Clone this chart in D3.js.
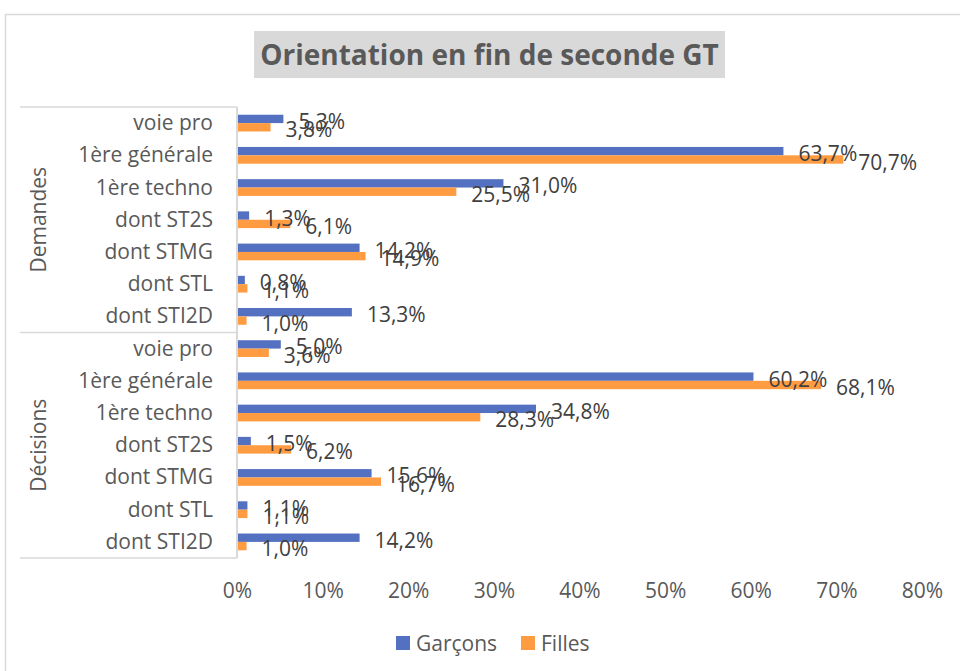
<!DOCTYPE html>
<html>
<head>
<meta charset="utf-8">
<script src="https://cdn.jsdelivr.net/npm/d3@7"></script>
<style>
  body { margin: 0; background: #fff; }
  svg { display: block; font-family: "Open Sans", "Noto Sans", sans-serif; }
</style>
</head>
<body>
<div id="chart"></div>
<script>
// données
var groupes = ["Demandes", "Décisions"];
var filieres = ["voie pro", "1ère générale", "1ère techno", "dont ST2S", "dont STMG", "dont STL", "dont STI2D"];
var series = ["Garçons", "Filles"];
var couleurs = ["#5470c1", "#ff9b40"];
var garcons_demandes = [5.3, 63.7, 31.0, 1.3, 14.2, 0.8, 13.3];
var filles_demandes = [3.8, 70.7, 25.5, 6.1, 14.9, 1.1, 1.0];
var garcons_decisions = [5.0, 60.2, 34.8, 1.5, 15.6, 1.1, 14.2];
var filles_decisions = [3.6, 68.1, 28.3, 6.2, 16.7, 1.1, 1.0];
var ticks_x = [0, 10, 20, 30, 40, 50, 60, 70, 80];

// lignes (groupe x filiere)
var rows = [];
groupes.forEach(function(g, gi){
  var gv = gi == 0 ? [garcons_demandes, filles_demandes] : [garcons_decisions, filles_decisions];
  filieres.forEach(function(f, fi){
    rows.push({key: g + "|" + f, groupe: g, filiere: f, values: [gv[0][fi], gv[1][fi]]});
  });
});

var W = 960, H = 671, FS = 21;
var svg = d3.select("#chart").append("svg").attr("width", W).attr("height", H);

// cadre
svg.append("rect").attr("x", 5.5).attr("y", 14.5).attr("width", 1000).attr("height", 700)
  .attr("fill", "none").attr("stroke", "#d9d9d9").attr("stroke-width", 1.5);

// titre
var titre = svg.append("g");
titre.append("rect").attr("x", 254).attr("y", 31).attr("width", 471).attr("height", 47).attr("fill", "#d9d9d9");
titre.append("text").attr("x", 489.5).attr("y", 65).attr("text-anchor", "middle")
  .attr("font-size", 28).attr("font-weight", "bold").attr("fill", "#595959")
  .text("Orientation en fin de seconde GT");

var x0 = 237, x1 = 922, yTop = 107, yBot = 558;
var x = d3.scaleLinear().domain([0, 80]).range([x0, x1]);
var y = d3.scaleBand().domain(rows.map(function(r){return r.key})).range([yTop, yBot]).paddingInner(0.48).paddingOuter(0.24);
var ys = d3.scaleBand().domain([0, 1]).range([0, y.bandwidth()]);
var fmt = function(v){return d3.format(".1f")(v).replace(".", ",") + "%"};

// barres
var rg = svg.selectAll("g.row").data(rows).enter().append("g").attr("class", "row")
  .attr("transform", function(d){return "translate(0," + y(d.key) + ")"});

rg.selectAll("rect").data(function(d){return d.values}).enter().append("rect")
  .attr("x", x(0) + 1)
  .attr("y", function(d, i){return ys(i)})
  .attr("width", function(d){return x(d) - x(0)})
  .attr("height", ys.bandwidth())
  .attr("fill", function(d, i){return couleurs[i]});

rg.selectAll("text.lab").data(function(d){return d.values}).enter().append("text")
  .attr("class", "lab")
  .attr("x", function(d){return x(d) + 16})
  .attr("y", function(d, i){return ys(i) + ys.bandwidth()/2 + 10})
  .attr("font-size", FS).attr("fill", "#404040")
  .text(fmt);

// axe des catégories
var axe = svg.append("g");
axe.append("line").attr("x1", x0).attr("x2", x0).attr("y1", yTop).attr("y2", yBot)
  .attr("stroke", "#d9d9d9").attr("stroke-width", 2);
[yTop, (yTop + yBot)/2, yBot].forEach(function(yy){
  axe.append("line").attr("x1", 20).attr("x2", x0).attr("y1", yy).attr("y2", yy)
    .attr("stroke", "#d9d9d9").attr("stroke-width", 1.5);
});
axe.selectAll("text.cat").data(rows).enter().append("text").attr("class", "cat")
  .attr("x", 213)
  .attr("y", function(d){return y(d.key) + y.bandwidth()/2 + 7})
  .attr("text-anchor", "end").attr("font-size", FS).attr("fill", "#595959")
  .text(function(d){return d.filiere});

var hg = (yBot - yTop)/2;
axe.selectAll("text.grp").data(groupes).enter().append("text").attr("class", "grp")
  .attr("transform", function(d, i){return "translate(46," + (yTop + hg*i + hg/2) + ") rotate(-90)"})
  .attr("text-anchor", "middle").attr("font-size", FS).attr("fill", "#595959")
  .text(function(d){return d});

// axe des valeurs
var xAxis = d3.axisBottom(x).tickValues(ticks_x).tickSize(0).tickFormat(function(d){return d + "%"});
var gx = svg.append("g").attr("transform", "translate(0,580)").call(xAxis);
gx.select(".domain").remove();
gx.selectAll("text").attr("font-size", FS).attr("fill", "#595959").attr("font-family", "'Open Sans', 'Noto Sans', sans-serif");

// légende
var leg = svg.append("g").attr("transform", "translate(396,643)");
var lx = [0, 125];
series.forEach(function(s, i){
  leg.append("rect").attr("x", lx[i]).attr("y", -7).attr("width", 14).attr("height", 14).attr("fill", couleurs[i]);
  leg.append("text").attr("x", lx[i] + 20).attr("y", 7.5).attr("font-size", FS).attr("fill", "#595959").text(s);
});
</script>
</body>
</html>
